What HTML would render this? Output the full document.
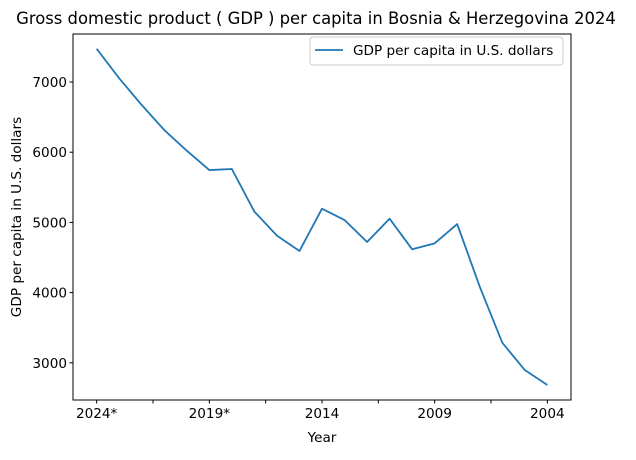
<!DOCTYPE html>
<html><head><meta charset="utf-8"><style>
body{margin:0;background:#fff;font-family:"Liberation Sans","DejaVu Sans",sans-serif}
svg text{font-family:"DejaVu Sans","Liberation Sans",sans-serif}
</style></head><body>
<svg id="c" width="636" height="455" xmlns="http://www.w3.org/2000/svg">
<rect width="636" height="455" fill="#fff"/>
<text x="316" y="24" font-size="16.4" text-anchor="middle">Gross domestic product ( GDP ) per capita in Bosnia &amp; Herzegovina 2024</text>
<g id="plot"></g>
<rect x="73" y="34" width="498" height="366" fill="none" stroke="#000" stroke-width="1"/>
<text x="322" y="442" font-size="13.6" text-anchor="middle">Year</text>
<text transform="translate(21,217) rotate(-90)" font-size="13.6" text-anchor="middle">GDP per capita in U.S. dollars</text>
<g>
<rect x="310" y="37" width="253" height="28" rx="3" fill="#fff" stroke="#ccc"/>
<line x1="315" y1="50" x2="343" y2="50" stroke="#1f77b4" stroke-width="1.8"/>
<text x="353" y="55" font-size="13.6">GDP per capita in U.S. dollars</text>
</g>
</svg>
<script>
const years=["2024*","2023*","2022","2021","2020","2019*","2018","2017","2016","2015","2014","2013","2012","2011","2010","2009","2008","2007","2006","2005","2004"];
const gdp=[7474,7053,6672,6316,6021,5746,5761,5153,4811,4593,5195,5034,4721,5053,4617,4702,4977,4084,3286,2897,2684];
const yTicks=[3000,4000,5000,6000,7000];
const NS="http://www.w3.org/2000/svg";
const L=73,R=571,T=34,B=400,xmin=-1.05,xmax=21.05,ymin=2470,ymax=7684;
const xs=i=>L+(i-xmin)/(xmax-xmin)*(R-L);
const ys=v=>B-(v-ymin)/(ymax-ymin)*(B-T);
const g=document.getElementById('plot');
function mk(t,a){const e=document.createElementNS(NS,t);for(const k in a)e.setAttribute(k,a[k]);g.appendChild(e);return e;}
yTicks.forEach(v=>{
 const tk=mk('line',{x1:L-3.5,x2:L,y1:ys(v),y2:ys(v),stroke:'#000'});
 
 
 const t=mk('text',{x:L-6,y:ys(v)+5,'font-size':13.6,'text-anchor':'end'});t.textContent=v;
 
 
});
for(let i=0;i<years.length;i+=2.5){
 const tk=mk('line',{x1:xs(i),x2:xs(i),y1:B,y2:B+3.5,stroke:'#000'});
 
 
 if(i%5===0){
  const t=mk('text',{x:xs(i),y:B+18,'font-size':13.6,'text-anchor':'middle'});t.textContent=years[i];
  
  
 }
}
const p=mk('polyline',{points:gdp.map((v,i)=>xs(i)+','+ys(v)).join(' '),fill:'none',stroke:'#1f77b4','stroke-width':1.8,'stroke-linejoin':'round'});


</script>
</body></html>
